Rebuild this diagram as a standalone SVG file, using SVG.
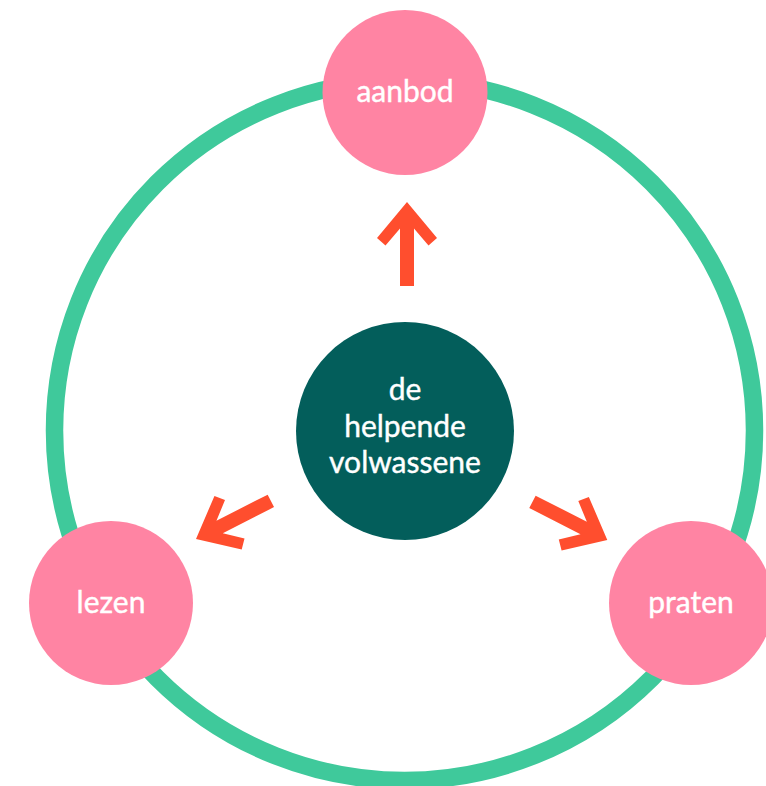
<svg xmlns="http://www.w3.org/2000/svg" width="766" height="786" viewBox="0 0 766 786">
<style>
.ring{fill:none;stroke:#3fc99b;stroke-width:17.5}
.pink{fill:#ff84a3}
.core{fill:#035e5b}
.arrow{fill:#ff4e2e}
.lbl{font-family:Lato,"Open Sans","Liberation Sans",sans-serif;font-size:30px;fill:#ffffff;stroke:#ffffff;stroke-width:0.4;text-anchor:middle}
</style>
<defs>
<polygon id="arr" points="0,0 30,36 21.5,43.5 7,26.5 7,84 -7,84 -7,26.5 -21.5,43.5 -30,36"/>
</defs>
<rect width="766" height="786" fill="#ffffff"/>
<circle class="ring" cx="404.5" cy="430.5" r="350"/>
<g id="connectors">
<use href="#arr" class="arrow" transform="translate(407,202)"/>
<use href="#arr" class="arrow" transform="translate(196,539) rotate(-117)"/>
<use href="#arr" class="arrow" transform="translate(607.3,540) rotate(117)"/>
</g>
<g id="center">
<circle class="core" cx="405" cy="431" r="109"/>
<text class="lbl" x="405" y="400">de</text>
<text class="lbl" x="405" y="437">helpende</text>
<text class="lbl" x="405" y="473">volwassene</text>
</g>
<g id="aanbod">
<circle class="pink" cx="405" cy="92.5" r="82.5"/>
<text class="lbl" x="405" y="102">aanbod</text>
</g>
<g id="lezen">
<circle class="pink" cx="111" cy="603" r="82"/>
<text class="lbl" x="111" y="613">lezen</text>
</g>
<g id="praten">
<circle class="pink" cx="691" cy="603" r="82"/>
<text class="lbl" x="691" y="613">praten</text>
</g>
</svg>
